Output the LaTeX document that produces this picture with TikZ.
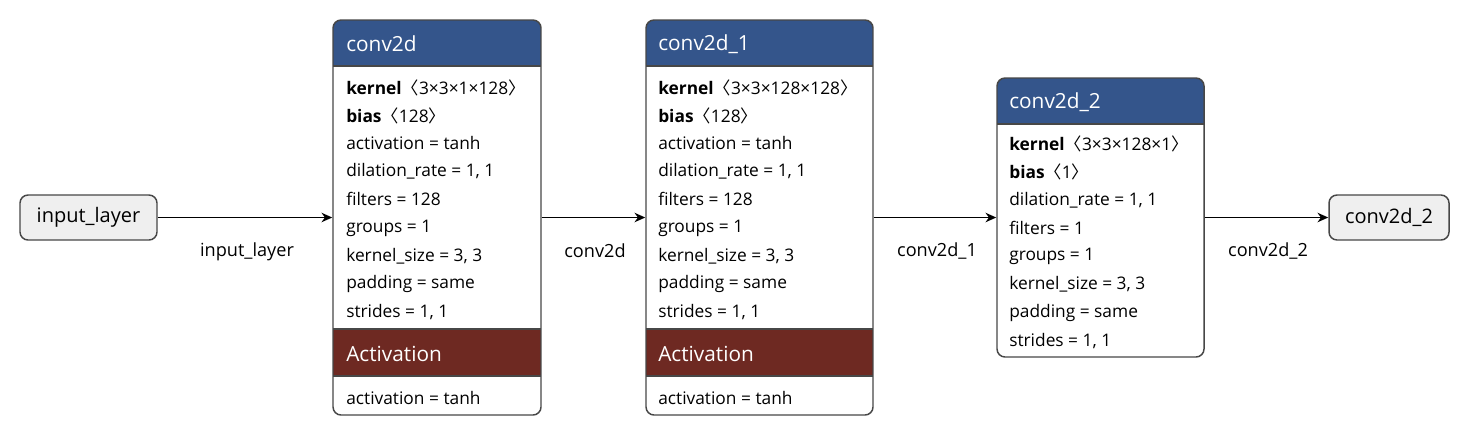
\documentclass[tikz,border=0pt]{standalone}
\usepackage{fontspec}
\setmainfont{Open Sans}
\newfontfamily\cjkf{Noto Sans CJK SC}
\usetikzlibrary{arrows.meta,fit}
\definecolor{hdrblue}{HTML}{34558B}
\definecolor{actred}{HTML}{6E2922}
\definecolor{iofill}{HTML}{EFEFEF}
\definecolor{edgegray}{HTML}{474747}
\newcommand{\la}{{\cjkf 〈}}
\newcommand{\ra}{{\cjkf 〉}}
\tikzset{
  x=0.75pt,y=-0.75pt,
  boxframe/.style={draw=edgegray,line width=1.1pt,rounded corners=6pt,inner sep=0pt},
  iobox/.style={draw=edgegray,fill=iofill,line width=1.1pt,rounded corners=6pt,inner sep=0pt},
  iotext/.style={font=\fontsize{15}{17}\selectfont,text=black},
  line/.style={anchor=west,inner sep=0pt,font=\fontsize{13}{15}\selectfont,text=black},
  hdr/.style={anchor=west,inner sep=0pt,font=\fontsize{15.6}{18}\selectfont,text=white},
  sep/.style={draw=edgegray,line width=1.1pt},
  conn/.style={draw=black,line width=1.4pt,-{Stealth[length=8pt,width=7pt,inset=2.5pt]}},
  elabel/.style={inner sep=0pt,font=\fontsize{13.6}{15}\selectfont,text=black}
}
\begin{document}
\begin{tikzpicture}
\useasboundingbox (0,0) rectangle (1470,436);
% ---------- input / output nodes
\node[iobox,fit={(20,195)(157,240)}] (in) {};
\node[iotext] (intext) at (in.center) {input\_layer};
\node[iobox,fit={(1329,195)(1449,240)}] (out) {};
\node[iotext] (outtext) at (out.center) {conv2d\_2};

% ---------- conv2d
\begin{scope}
\clip[rounded corners=6pt] (333,20) rectangle (541,415);
\fill[white] (333,20) rectangle (541,415);
\fill[hdrblue] (333,20) rectangle (541,66);
\fill[actred] (333,329) rectangle (541,376);
\draw[sep] (333,66) -- (541,66);
\draw[sep] (333,329) -- (541,329);
\draw[sep] (333,376) -- (541,376);
\end{scope}
\node[boxframe,fit={(333,20)(541,415)}] (c0) {};
\node[hdr] (c0h) at (346,44) {conv2d};
\node[line] (c0a) at (346,88) {\textbf{kernel}\la3×3×1×128\ra};
\node[line] (c0b) at (346,116) {\textbf{bias}\la128\ra};
\node[line] (c0c) at (346,143) {activation = tanh};
\node[line] (c0d) at (346,171) {dilation\_rate = 1, 1};
\node[line] (c0e) at (346,199) {filters = 128};
\node[line] (c0f) at (346,228) {groups = 1};
\node[line] (c0g) at (346,256) {kernel\_size = 3, 3};
\node[line] (c0i) at (346,284) {padding = same};
\node[line] (c0j) at (346,312) {strides = 1, 1};
\node[hdr] (c0act) at (346,354) {Activation};
\node[line] (c0k) at (346,398) {activation = tanh};

% ---------- conv2d_1
\begin{scope}
\clip[rounded corners=6pt] (646,20) rectangle (873,415);
\fill[white] (646,20) rectangle (873,415);
\fill[hdrblue] (646,20) rectangle (873,66);
\fill[actred] (646,329) rectangle (873,376);
\draw[sep] (646,66) -- (873,66);
\draw[sep] (646,329) -- (873,329);
\draw[sep] (646,376) -- (873,376);
\end{scope}
\node[boxframe,fit={(646,20)(873,415)}] (c1) {};
\node[hdr] (c1h) at (658,44) {conv2d\_1};
\node[line] (c1a) at (658,88) {\textbf{kernel}\la3×3×128×128\ra};
\node[line] (c1b) at (658,116) {\textbf{bias}\la128\ra};
\node[line] (c1c) at (658,143) {activation = tanh};
\node[line] (c1d) at (658,171) {dilation\_rate = 1, 1};
\node[line] (c1e) at (658,199) {filters = 128};
\node[line] (c1f) at (658,228) {groups = 1};
\node[line] (c1g) at (658,256) {kernel\_size = 3, 3};
\node[line] (c1i) at (658,284) {padding = same};
\node[line] (c1j) at (658,312) {strides = 1, 1};
\node[hdr] (c1act) at (658,354) {Activation};
\node[line] (c1k) at (658,398) {activation = tanh};

% ---------- conv2d_2
\begin{scope}
\clip[rounded corners=6pt] (997,78) rectangle (1204,357);
\fill[white] (997,78) rectangle (1204,357);
\fill[hdrblue] (997,78) rectangle (1204,124);
\draw[sep] (997,124) -- (1204,124);
\end{scope}
\node[boxframe,fit={(997,78)(1204,357)}] (c2) {};
\node[hdr] (c2h) at (1009,102) {conv2d\_2};
\node[line] (c2a) at (1009,144) {\textbf{kernel}\la3×3×128×1\ra};
\node[line] (c2b) at (1009,172) {\textbf{bias}\la1\ra};
\node[line] (c2d) at (1009,200) {dilation\_rate = 1, 1};
\node[line] (c2e) at (1009,228) {filters = 1};
\node[line] (c2f) at (1009,256) {groups = 1};
\node[line] (c2g) at (1009,284) {kernel\_size = 3, 3};
\node[line] (c2i) at (1009,313) {padding = same};
\node[line] (c2j) at (1009,341) {strides = 1, 1};

% ---------- connectors
\draw[conn] (in.east) -- (c0.west);
\draw[conn] (c0.east) -- (c1.west);
\draw[conn] (c1.east) -- (c2.west);
\draw[conn] (c2.east) -- (out.west);
\node[elabel] (l0) at (247,252) {input\_layer};
\node[elabel] (l1) at (595,251) {conv2d};
\node[elabel] (l2) at (937,251) {conv2d\_1};
\node[elabel] (l3) at (1268,251) {conv2d\_2};
\end{tikzpicture}
\end{document}
